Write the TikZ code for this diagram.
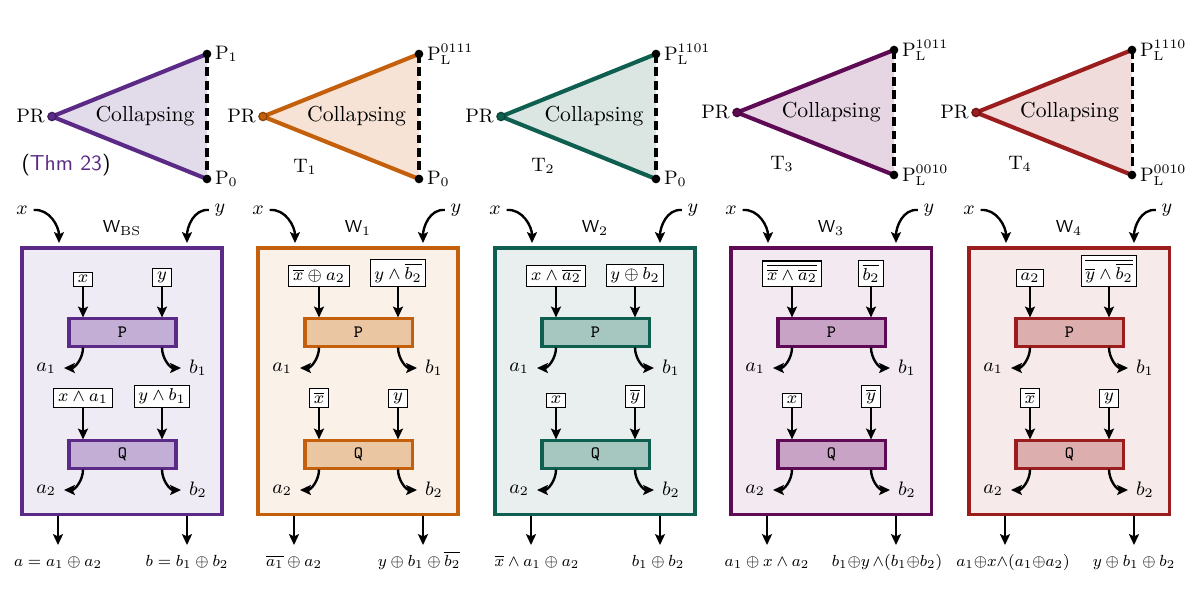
\documentclass[tikz,border=0pt]{standalone}
\usetikzlibrary{arrows.meta}
\definecolor{c1}{HTML}{5B2A86}\definecolor{c1t}{HTML}{E2DBEA}\definecolor{c1b}{HTML}{EFEBF4}\definecolor{c1p}{HTML}{C3AFD6}
\definecolor{c2}{HTML}{C4600C}\definecolor{c2t}{HTML}{F6E3D5}\definecolor{c2b}{HTML}{FAF1E8}\definecolor{c2p}{HTML}{EBC6A3}
\definecolor{c3}{HTML}{0F5F50}\definecolor{c3t}{HTML}{DBE5E2}\definecolor{c3b}{HTML}{E9EFEE}\definecolor{c3p}{HTML}{A5C7BF}
\definecolor{c4}{HTML}{5E0A55}\definecolor{c4t}{HTML}{E6D6E4}\definecolor{c4b}{HTML}{F3E9F1}\definecolor{c4p}{HTML}{C9A3C5}
\definecolor{c5}{HTML}{9B1D1D}\definecolor{c5t}{HTML}{EFDCDB}\definecolor{c5b}{HTML}{F6EAEA}\definecolor{c5p}{HTML}{DDAEAE}
\tikzset{
 obox/.style={draw=#1, fill=#1b, line width=1.4pt, minimum width=92.32pt, minimum height=122.8pt, inner sep=0pt},
 pbox/.style={draw=#1, fill=#1p, line width=1.4pt, minimum width=49.4pt, minimum height=12.5pt, inner sep=0pt, font=\footnotesize\ttfamily},
 sbox/.style={draw=black, fill=white, line width=0.5pt, inner xsep=2pt, inner ysep=1.6pt, font=\footnotesize},
 lab/.style={inner sep=1pt, font=\small},
 olab/.style={inner sep=0pt, anchor=base, font=\footnotesize, scale=0.93},
 arr/.style={-{Stealth[length=5pt,width=4.6pt,inset=1pt]}, line width=1.1pt},
 edge/.style={line width=1.9pt, line join=round},
 dashline/.style={line width=1.4pt, dash pattern=on 4pt off 2.2pt},
 bdot/.style={circle, fill=black, inner sep=0pt, minimum size=4pt},
 prdot/.style={circle, draw=#1!70!black, fill=#1, line width=0.6pt, inner sep=0pt, minimum size=3.8pt},
}
% triangle: #1 prefix, #2 PR x, #3 right x, #4 top y, #5 bottom y, #6 colour, #7 top label, #8 bottom label
\newcommand\tri[8]{%
 \coordinate (#1pr) at ({#2},{-(#4+#5)/2});
 \coordinate (#1top) at ({#3},{-#4});
 \coordinate (#1bot) at ({#3},{-#5});
 \fill[#6t] (#1pr) -- (#1top) -- (#1bot) -- cycle;
 \draw[#6, edge] (#1top) -- (#1pr) -- (#1bot);
 \draw[dashline] (#1top) -- (#1bot);
 \node[prdot=#6] (#1prd) at (#1pr) {};
 \node[bdot] (#1topd) at (#1top) {};
 \node[bdot] (#1botd) at (#1bot) {};
 \node[lab, anchor=east] (#1prl) at (#1prd.west) {PR};
 \node[lab, anchor=west, xshift=0.3pt] (#1topl) at (#1topd.east) {#7};
 \node[lab, anchor=west, xshift=0.3pt] (#1botl) at (#1botd.east) {#8};
 \node (#1col) at ({#2+0.6*(#3-#2)},{-(#4+#5)/2}) {Collapsing};
}
% panel: #1 prefix, #2 left x, #3 colour, #4 W label, #5-#8 box texts
\newcommand\wpanel[8]{%
 \node[obox=#3] (#1box) at ({#2+100},-381) {};
 \node[font=\footnotesize\sffamily] (#1W) at ({#2+100},-228) {#4};
 \node[lab] (#1x) at ({#2},-210) {$x$};
 \node[lab] (#1y) at ({#2+198},-210) {$y$};
 \coordinate (#1xe) at ({#2+37},-243);
 \coordinate (#1ye) at ({#2+165},-243);
 \draw[arr] ([xshift=1.5pt]#1x.east) to[out=5,in=90] (#1xe);
 \draw[arr] ([xshift=-1.5pt]#1y.west) to[out=175,in=90] (#1ye);
 \node[pbox=#3] (#1P) at ({#2+100.5},-332.5) {P};
 \node[pbox=#3] (#1Q) at ({#2+100.5},-454.5) {Q};
 \node[sbox,anchor=south] (#1s1) at ({#2+61},-287) {$#5$};
 \node[sbox,anchor=south] (#1s2) at ({#2+140},-287) {$#6$};
 \node[sbox,anchor=south] (#1s3) at ({#2+61},-408) {$#7$};
 \node[sbox,anchor=south] (#1s4) at ({#2+140},-408) {$#8$};
 \draw[arr] (#1s1) -- (#1s1 |- #1P.north);
 \draw[arr] (#1s2) -- (#1s2 |- #1P.north);
 \draw[arr] (#1s3) -- (#1s3 |- #1Q.north);
 \draw[arr] (#1s4) -- (#1s4 |- #1Q.north);
 \coordinate (#1ta1) at ({#2+42},-368);
 \coordinate (#1tb1) at ({#2+159},-368);
 \coordinate (#1ta2) at ({#2+42},-490);
 \coordinate (#1tb2) at ({#2+159},-490);
 \draw[arr] (#1s1 |- #1P.south) to[out=-90,in=0] (#1ta1);
 \draw[arr] (#1s2 |- #1P.south) to[out=-90,in=180] (#1tb1);
 \draw[arr] (#1s3 |- #1Q.south) to[out=-90,in=0] (#1ta2);
 \draw[arr] (#1s4 |- #1Q.south) to[out=-90,in=180] (#1tb2);
 \node[lab,anchor=east,xshift=-2.5pt] (#1a1) at (#1ta1) {$a_1$};
 \node[lab,anchor=west,xshift=2.5pt] (#1b1) at (#1tb1) {$b_1$};
 \node[lab,anchor=east,xshift=-2.5pt] (#1a2) at (#1ta2) {$a_2$};
 \node[lab,anchor=west,xshift=2.5pt] (#1b2) at (#1tb2) {$b_2$};
 \coordinate (#1oa) at ({#2+36},-545);
 \coordinate (#1ob) at ({#2+165},-545);
 \draw[arr] (#1box.south -| #1oa) -- (#1oa);
 \draw[arr] (#1box.south -| #1ob) -- (#1ob);
 \node[olab] (#1la) at ({#2+36+\oAs},-566) {\outA};
 \node[olab] (#1lb) at ({#2+165+\oBs},-566) {\outB};
}
\begin{document}
\begin{tikzpicture}[x=0.4616pt,y=0.4616pt]
\useasboundingbox (0,0) rectangle (1200,-600);
\fill[white] (0,0) rectangle (1200,-600);
% triangles
\tri{ta}{52}{207}{54}{179}{c1}{$\mathrm{P}_1$}{$\mathrm{P}_0$}
\tri{tb}{263}{419}{54}{179}{c2}{$\mathrm{P}_{\mathrm{L}}^{0111}$}{$\mathrm{P}_0$}
\tri{tc}{501}{656}{54}{179}{c3}{$\mathrm{P}_{\mathrm{L}}^{1101}$}{$\mathrm{P}_0$}
\tri{td}{737}{894}{50}{175}{c4}{$\mathrm{P}_{\mathrm{L}}^{1011}$}{$\mathrm{P}_{\mathrm{L}}^{0010}$}
\tri{te}{976}{1132}{50}{175}{c5}{$\mathrm{P}_{\mathrm{L}}^{1110}$}{$\mathrm{P}_{\mathrm{L}}^{0010}$}
\node[font=\sffamily] (thm) at (66,-165) {(\textcolor{c1}{Thm 23})};
\node[lab] (T1) at (305,-167) {$\mathrm{T}_1$};
\node[lab] (T2) at (543,-166) {$\mathrm{T}_2$};
\node[lab] (T3) at (782,-164) {$\mathrm{T}_3$};
\node[lab] (T4) at (1020,-164) {$\mathrm{T}_4$};
% panels
\def\oAs{0}\def\oBs{0}
\def\outA{$a=a_1\oplus a_2$}\def\outB{$b=b_1\oplus b_2$}
\wpanel{pa}{22}{c1}{W$_{\mathrm{BS}}$}{x}{y}{x\wedge a_1}{y\wedge b_1}
\def\oAs{0}\def\oBs{-4}
\def\outA{$\overline{a_1}\oplus a_2$}\def\outB{$y\oplus b_1\oplus\overline{b_2}$}
\wpanel{pb}{258}{c2}{W$_1$}{\overline{x}\oplus a_2}{y\wedge\overline{b_2}}{\overline{x}}{y}
\def\oAs{6}\def\oBs{-2}
\def\outA{$\overline{x}\wedge a_1\oplus a_2$}\def\outB{$b_1\oplus b_2$}
\wpanel{pc}{495}{c3}{W$_2$}{x\wedge\overline{a_2}}{y\oplus b_2}{x}{\overline{y}}
\def\oAs{0}\def\oBs{-9}
\def\outA{$a_1\oplus x\wedge a_2$}\def\outB{$b_1{\oplus}y\,{\wedge}(b_1{\oplus}b_2)$}
\wpanel{pd}{731}{c4}{W$_3$}{\overline{\overline{x}\wedge\overline{a_2}}}{\overline{b_2}}{x}{\overline{y}}
\def\oAs{8}\def\oBs{0}
\def\outA{$a_1{\oplus}x{\wedge}(a_1{\oplus}a_2)$}\def\outB{$y\oplus b_1\oplus b_2$}
\wpanel{pe}{969}{c5}{W$_4$}{a_2}{\overline{\overline{y}\wedge\overline{b_2}}}{\overline{x}}{y}
\end{tikzpicture}
\end{document}
